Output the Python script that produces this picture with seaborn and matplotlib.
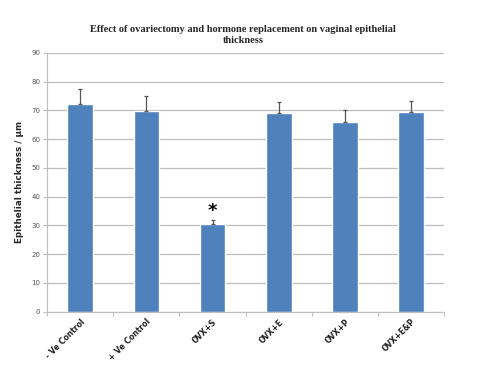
"""
Vaginal epithelial thickness after ovariectomy and hormone replacement.
Writes: out.png (486x365)
"""
import matplotlib.pyplot as plt
import numpy as np
import pandas as pd
import seaborn as sns

GROUPS = ["- Ve Control", "+ Ve Control", "OVX+S", "OVX+E", "OVX+P", "OVX+E&P"]
THICKNESS = [72.4, 69.8, 30.5, 69.0, 66.1, 69.4]
SEM = [5.2, 5.1, 1.3, 3.9, 4.0, 3.8]
SIGNIFICANT = ["OVX+S"]

BAR_COLOR = "#4F81BD"
GRID_COLOR = "#BEBEBE"


def main():
    sns.set_style("white")
    plt.rcParams["font.family"] = ["DejaVu Sans"]

    df = pd.DataFrame({"group": GROUPS, "thickness": THICKNESS, "sem": SEM})

    fig = plt.figure(figsize=(4.86, 3.65), dpi=100)
    ax = fig.add_axes([0.097, 0.146, 0.817, 0.709])

    sns.barplot(data=df, x="group", y="thickness", ax=ax, color=BAR_COLOR,
                saturation=1, width=0.39, errorbar=None, zorder=3)
    x = np.arange(len(GROUPS))
    ax.errorbar(x, df["thickness"], yerr=[np.zeros(len(SEM)), df["sem"]],
                fmt="none", ecolor="#555555", elinewidth=0.9, capsize=1.5,
                capthick=0.9, zorder=4)

    for g in SIGNIFICANT:
        i = GROUPS.index(g)
        ax.text(i, df.loc[i, "thickness"] + 4.5, "*", ha="center", va="center",
                fontsize=13, fontweight="bold", color="black")

    ax.set_ylim(0, 90)
    ax.set_yticks(range(0, 91, 10))
    ax.set_xlim(-0.5, len(GROUPS) - 0.5)
    ax.yaxis.grid(True, color=GRID_COLOR, linewidth=0.9, zorder=0)
    ax.set_axisbelow(True)
    for side in ("top", "right"):
        ax.spines[side].set_visible(False)
    ax.spines["left"].set_color(GRID_COLOR)
    ax.spines["bottom"].set_color(GRID_COLOR)

    ax.tick_params(axis="y", labelsize=5, colors="#555555", length=3,
                   width=0.8, color=GRID_COLOR, left=True, pad=2)
    ax.set_xticks(x)
    ax.set_xticklabels(GROUPS, rotation=45, ha="right", rotation_mode="anchor",
                       fontsize=5.6, fontweight="bold", color="#222222")
    ax.tick_params(axis="x", length=0, pad=4)
    ax.set_xticks(np.arange(-0.5, len(GROUPS), 1.0), minor=True)
    ax.tick_params(axis="x", which="minor", length=3, width=0.8,
                   color=GRID_COLOR, bottom=True)

    ax.set_xlabel("")
    ax.set_ylabel("Epithelial thickness / \u00b5m", fontsize=6.3,
                  fontweight="bold", labelpad=5)

    fig.text(0.5, 0.905, "Effect of ovariectomy and hormone replacement on vaginal epithelial\nthickness",
             ha="center", va="center", fontsize=7.5, fontweight="bold",
             family=["Liberation Serif", "DejaVu Serif"], linespacing=1.3)

    fig.savefig("out.png", dpi=100)
    plt.close(fig)


if __name__ == "__main__":
    main()
